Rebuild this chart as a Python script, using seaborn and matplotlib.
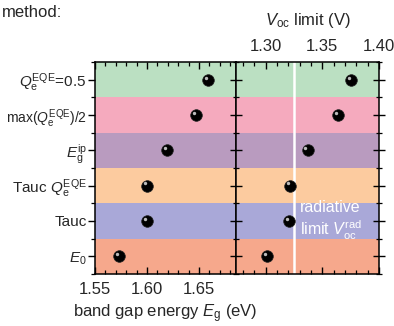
import pandas as pd
import seaborn as sns
import matplotlib.pyplot as plt
import matplotlib.transforms as mtransforms
from matplotlib.ticker import MultipleLocator, FixedLocator

methods = [r"$Q_\mathrm{e}^\mathrm{EQE}$=0.5",
           r"max($Q_\mathrm{e}^\mathrm{EQE}$)/2",
           r"$E_\mathrm{g}^\mathrm{ip}$",
           r"Tauc $Q_\mathrm{e}^\mathrm{EQE}$",
           "Tauc",
           r"$E_0$"]
eg = [1.659, 1.647, 1.619, 1.600, 1.600, 1.573]
voc = [1.375, 1.364, 1.337, 1.3215, 1.321, 1.3015]
voc_rad = 1.325

band_colors = ["#bbe0c2", "#f5aabe", "#b99bbf", "#fccb9f", "#a9a8d8", "#f6a88c"]

df = pd.DataFrame({"method": methods, "eg": eg, "voc": voc})
df["row"] = range(len(df))

sns.set_style("ticks")
plt.rcParams["font.family"] = ["Liberation Sans", "DejaVu Sans"]
plt.rcParams["mathtext.fontset"] = "custom"
plt.rcParams["mathtext.rm"] = "Liberation Sans"
plt.rcParams["mathtext.it"] = "Liberation Sans:italic"
fs = 12

fig = plt.figure(figsize=(3.94, 3.26), dpi=100)
ax1 = fig.add_axes([0.241, 0.16, 0.358, 0.65])
ax2 = fig.add_axes([0.599, 0.16, 0.363, 0.65])

for ax, col in [(ax1, "eg"), (ax2, "voc")]:
    for i, c in enumerate(band_colors):
        ax.axhspan(i - 0.5, i + 0.5, color=c, lw=0, zorder=0)
    sns.scatterplot(data=df, x=col, y="row", ax=ax, color="black", s=70,
                    edgecolor="#222222", linewidth=0.5, zorder=3, legend=False)
    hl = mtransforms.offset_copy(ax.transData, fig=fig, x=-1.5, y=1.5, units="points")
    ax.scatter(df[col], df["row"], s=6, color="#bbbbbb", lw=0, zorder=4, transform=hl)
    ax.set_ylim(len(df) - 0.5, -0.5)
    ax.yaxis.set_major_locator(FixedLocator(df["row"]))
    ax.yaxis.set_minor_locator(FixedLocator([i - 0.5 for i in range(len(df) + 1)]))
    ax.xaxis.set_major_locator(MultipleLocator(0.05))
    ax.xaxis.set_minor_locator(MultipleLocator(0.01))
    for s in ax.spines.values():
        s.set_linewidth(1.1)
        s.set_color("black")
        s.set_zorder(6)
        s.set_visible(True)
    ax.tick_params(which="major", length=5, width=1.0, labelsize=fs, color="black")
    ax.tick_params(which="minor", length=3, width=0.9, color="black")
    ax.set_ylabel("")

ax1.set_xlim(1.55, 1.6855)
ax1.set_yticks(df["row"], methods)
ax1.tick_params(axis="x", which="both", direction="in", top=True, bottom=True, pad=6)
ax1.tick_params(axis="y", which="both", direction="out", left=True, right=False,
                pad=1, labelsize=11)
ax1.get_yticklabels()[1].set_fontsize(10)
ax1.set_xlabel(r"band gap energy $E_\mathrm{g}$ (eV)", fontsize=fs, labelpad=4)
ax1.set_xticks([1.55, 1.60, 1.65], ["1.55", "1.60", "1.65"])

ax2.set_xlim(1.274, 1.40)
ax2.set_xticks([1.30, 1.35, 1.40], ["1.30", "1.35", "1.40"])
ax2.tick_params(axis="x", which="both", direction="in", top=True, bottom=True,
                labeltop=True, labelbottom=False, pad=6)
ax2.tick_params(axis="y", which="both", direction="inout", left=True, right=True,
                labelleft=False)
ax2.tick_params(axis="y", which="major", length=9)
ax2.tick_params(axis="y", which="minor", length=5)
ax2.xaxis.set_label_position("top")
ax2.set_xlabel(r"$V_\mathrm{oc}$ limit (V)", fontsize=fs, labelpad=10)
ax2.axvline(voc_rad, color="white", lw=1.8, zorder=2)
ax2.text(voc_rad + 0.005, 4, "radiative\nlimit $V_\mathrm{oc}^\mathrm{rad}$",
         color="white", fontsize=11.5, va="center", ha="left", linespacing=1.2, zorder=5)

fig.text(0.005, 0.985, "method:", fontsize=fs, va="top", ha="left")

fig.savefig("out.png", dpi=100)
